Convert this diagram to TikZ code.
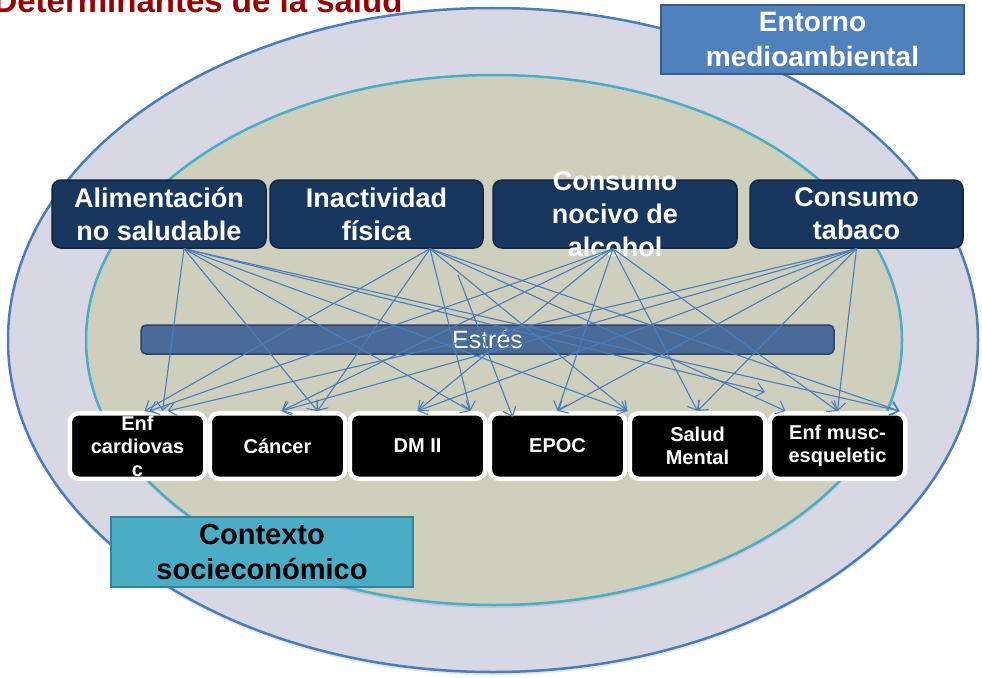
\documentclass[tikz,border=0pt]{standalone}
\usepackage{fontspec}
\setmainfont{Liberation Sans}
\usepackage{xcolor}
\usepackage{tikz}
\usetikzlibrary{positioning,arrows.meta,shadows}

\definecolor{outerfill}{HTML}{D8D8E5}
\definecolor{outerline}{HTML}{4A7EBB}
\definecolor{innerfill}{HTML}{CFCFBE}
\definecolor{innerline}{HTML}{4BACC6}
\definecolor{navy}{HTML}{17375E}
\definecolor{navyline}{HTML}{10253F}
\definecolor{stressfill}{HTML}{4A6B98}
\definecolor{stressline}{HTML}{2B4468}
\definecolor{ctxfill}{HTML}{4BACC6}
\definecolor{ctxline}{HTML}{31849B}
\definecolor{envfill}{HTML}{4F81BD}
\definecolor{envline}{HTML}{385D8A}
\definecolor{titlered}{HTML}{990000}
\definecolor{arrowblue}{HTML}{4A7EBB}

\tikzset{
  factor/.style={draw=navyline, line width=1.5pt, fill=navy, rounded corners=9pt,
    minimum height=68pt, inner sep=0pt, text=white, align=center,
    font=\bfseries\fontsize{27}{33}\selectfont},
  disease/.style={draw=white, line width=4.5pt, fill=black, rounded corners=9pt,
    minimum width=135.5pt, minimum height=65.5pt, inner sep=0pt, text=white, align=center,
    font=\bfseries\fontsize{20}{23}\selectfont,
    drop shadow={opacity=0.3, shadow xshift=2pt, shadow yshift=-2pt}},
  flow/.style={draw=arrowblue, line width=1.1pt, -{Straight Barb[length=8pt,width=14pt]}}
}

\begin{document}
\begin{tikzpicture}[x=1pt,y=-1pt]
    \clip (0,0) rectangle (982,677);

    % Environment and socio-economic layers
    \draw[fill=outerfill, draw=outerline, line width=2.5pt,
      drop shadow={opacity=0.2, shadow xshift=0pt, shadow yshift=-3pt}]
      (493,340) ellipse [x radius=485pt, y radius=332pt]; % Entorno
    \draw[fill=innerfill, draw=innerline, line width=2.5pt,
      drop shadow={opacity=0.2, shadow xshift=0pt, shadow yshift=-3pt}]
      (494,340) ellipse [x radius=408pt, y radius=265pt]; % Contexto

    \node[anchor=base west, text=titlered, font=\bfseries\fontsize{33}{38}\selectfont]
      (title) at (-10,13) {Determinantes de la salud};

    % Risk factors
    \node[factor, minimum width=214pt] (ali) at (159,214) {Alimentación\\no saludable};
    \node[factor, minimum width=213pt] (ina) at (376.5,214) {Inactividad\\física};
    \node[factor, minimum width=244pt] (alc) at (615,214) {};
    \node[text=white, align=center, font=\bfseries\fontsize{27}{33}\selectfont]
      (alctext) at (alc) {Consumo\\nocivo de\\alcohol};
    \node[factor, minimum width=213pt] (tab) at (856.5,214) {Consumo\\tabaco};

    \node[draw=stressline, line width=1.5pt, fill=stressfill, rounded corners=5pt,
      minimum width=693pt, minimum height=29pt, inner sep=0pt, text=white,
      font=\fontsize{25}{28}\selectfont] (estres) at (487.5,339.5) {Estrés};

    % Diseases
    \node[disease] (enf) at (137.5,446) {Enf\\cardiovas\\c};
    \node[disease, right=0pt of enf] (canc) {Cáncer};
    \node[disease, right=0pt of canc] (dm) {DM II};
    \node[disease, right=0pt of dm] (epoc) {EPOC};
    \node[disease, right=0pt of epoc] (salud) {Salud\\Mental};
    \node[disease, right=0pt of salud] (musc) {Enf musc-\\esqueletic};

    % Context boxes
    \node[draw=ctxline, line width=2pt, fill=ctxfill, minimum width=302pt, minimum height=70pt,
      inner sep=0pt, align=center, font=\bfseries\fontsize{29}{35}\selectfont]
      (ctx) at (262,552) {Contexto\\socieconómico};
    \node[draw=envline, line width=2pt, fill=envfill, minimum width=303pt, minimum height=69pt,
      inner sep=0pt, align=center, text=white, font=\bfseries\fontsize{28}{35}\selectfont]
      (env) at (812.5,39.5) {Entorno\\medioambiental};

    % Links
    \coordinate (stray) at (765,392);
    \coordinate (midair) at (458,275);
    \draw[flow] ([xshift=25pt]ali.south) -- ([xshift=25pt]enf.north);
    \draw[flow] ([xshift=25pt]ali.south) -- ([xshift=40pt]canc.north);
    \draw[flow] ([xshift=25pt]ali.south) -- ([xshift=53pt]dm.north);
    \draw[flow] ([xshift=25pt]ali.south) -- ([xshift=70pt]epoc.north);
    \draw[flow] ([xshift=25pt]ali.south) -- (stray);
    \draw[flow] ([xshift=25pt]ali.south) -- ([xshift=62pt]musc.north);

    \draw[flow] ([xshift=53.5pt]ina.south) -- ([xshift=7pt]enf.north);
    \draw[flow] ([xshift=53.5pt]ina.south) -- ([xshift=40pt]canc.north);
    \draw[flow] ([xshift=53.5pt]ina.south) -- ([xshift=53pt]dm.north);
    \draw[flow] ([xshift=53.5pt]ina.south) -- ([xshift=70pt]epoc.north);
    \draw[flow] ([xshift=53.5pt]ina.south) -- ([xshift=-52pt]musc.north);
    \draw[flow] ([xshift=53.5pt]ina.south) -- ([xshift=62pt]musc.north);
    \draw[flow] (midair) -- ([xshift=-45pt,yshift=-6pt]epoc.north);

    \draw[flow] ([xshift=-2pt]alc.south) -- ([xshift=12pt]enf.north);
    \draw[flow] ([xshift=-2pt]alc.south) -- ([xshift=4pt]canc.north);
    \draw[flow] ([xshift=-2pt]alc.south) -- (dm.north);
    \draw[flow] ([xshift=-2pt]alc.south) -- (epoc.north);
    \draw[flow] ([xshift=-2pt]alc.south) -- (salud.north);
    \draw[flow] ([xshift=-2pt]alc.south) -- (musc.north);

    \draw[flow] (tab.south) -- ([xshift=30pt]enf.north);
    \draw[flow] (tab.south) -- ([xshift=4pt]canc.north);
    \draw[flow] (tab.south) -- (dm.north);
    \draw[flow] (tab.south) -- (epoc.north);
    \draw[flow] (tab.south) -- (salud.north);
    \draw[flow] (tab.south) -- (musc.north);
\end{tikzpicture}
\end{document}
